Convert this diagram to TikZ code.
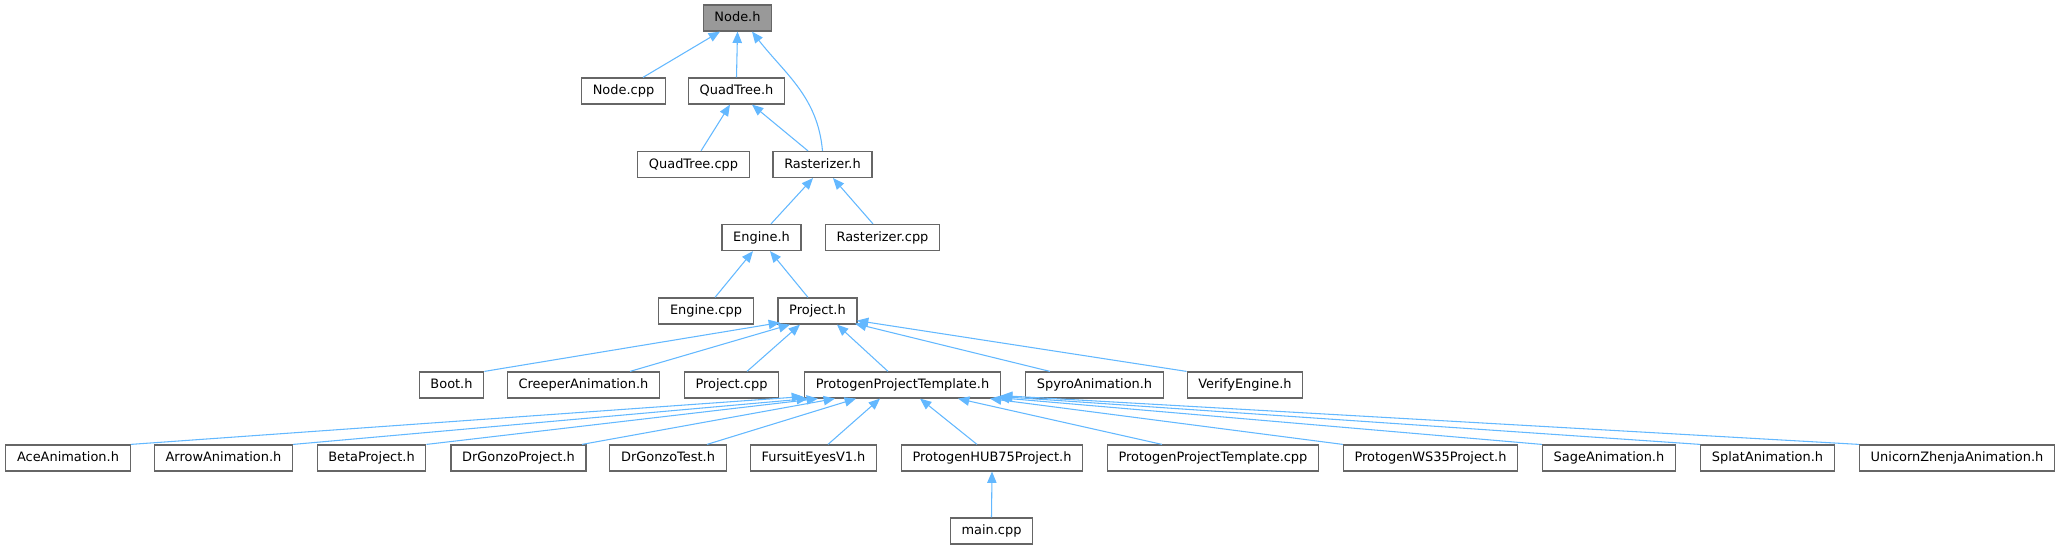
\documentclass[tikz,border=0pt]{standalone}
\usepackage{fontspec}
\setmainfont{DejaVu Sans}
\usepackage{xcolor}
\usetikzlibrary{arrows.meta,calc}
\definecolor{edgeblue}{HTML}{63B8FF}
\definecolor{boxgray}{HTML}{666666}
\definecolor{rootgray}{HTML}{999999}

\begin{document}
\begin{tikzpicture}[x=0.75pt,y=-0.75pt,font=\fontsize{9.7}{11}\selectfont,
 >={Triangle[length=8.5pt,width=7pt]},
 file/.style={draw=boxgray,line width=0.9pt,fill=white,inner xsep=8.4pt,inner ysep=0pt,
  minimum height=19.5pt,text height=7.3pt,text depth=2pt},
 dep/.style={->,draw=edgeblue,fill=none,line width=0.8pt}]
\useasboundingbox (0,0) rectangle (2061,549);
% ranks of the include graph
\node[file,fill=rootgray] (nodeh) at (737.5,18) {Node.h};
\node[file] (nodecpp) at (623.5,91) {Node.cpp};
\node[file] (qth) at (736.5,91) {QuadTree.h};
\node[file] (qtcpp) at (693.5,164.5) {QuadTree.cpp};
\node[file] (rasth) at (822.5,164.5) {Rasterizer.h};
\node[file] (engh) at (761.5,237.5) {Engine.h};
\node[file] (rastcpp) at (882.5,237.5) {Rasterizer.cpp};
\node[file] (engcpp) at (706,311) {Engine.cpp};
\node[file] (projh) at (817.5,311) {Project.h};
\node[file] (boot) at (451.5,385) {Boot.h};
\node[file] (creeper) at (583.5,385) {CreeperAnimation.h};
\node[file] (projcpp) at (731.5,385) {Project.cpp};
\node[file] (ppth) at (902.5,385) {ProtogenProjectTemplate.h};
\node[file] (spyro) at (1094.5,385) {SpyroAnimation.h};
\node[file] (verify) at (1245,385) {VerifyEngine.h};
\node[file] (ace) at (68,458) {AceAnimation.h};
\node[file] (arrow) at (223.5,458) {ArrowAnimation.h};
\node[file] (beta) at (371.5,458) {BetaProject.h};
\node[file] (gonzop) at (518.5,458) {DrGonzoProject.h};
\node[file] (gonzot) at (668,458) {DrGonzoTest.h};
\node[file] (fursuit) at (813.5,458) {FursuitEyesV1.h};
\node[file] (hub) at (992,458) {ProtogenHUB75Project.h};
\node[file] (pptcpp) at (1213,458) {ProtogenProjectTemplate.cpp};
\node[file] (ws) at (1430.5,458) {ProtogenWS35Project.h};
\node[file] (sage) at (1609,458) {SageAnimation.h};
\node[file] (splat) at (1767.5,458) {SplatAnimation.h};
\node[file] (unicorn) at (1957,458) {UnicornZhenjaAnimation.h};
\node[file] (maincpp) at (991.5,531) {main.cpp};
% edges point at the included header
\draw[dep] ($(nodecpp.north)+(19.5,0)$) -- ($(nodeh.south)+(-17.5,0)$);
\draw[dep] (qth.north) -- (nodeh.south);
\draw[dep] (rasth.north) to[out=95,in=-52] ($(nodeh.south)+(14.5,0)$);
\draw[dep] ($(qtcpp.north)+(7.5,0)$) -- ($(qth.south)+(-6.5,0)$);
\draw[dep] ($(rasth.north)+(-14.5,0)$) -- ($(qth.south)+(15.5,0)$);
\draw[dep] ($(engh.north)+(9.5,0)$) -- ($(rasth.south)+(-9.5,0)$);
\draw[dep] ($(rastcpp.north)+(-9.5,0)$) -- ($(rasth.south)+(10.5,0)$);
\draw[dep] ($(engcpp.north)+(9,0)$) -- ($(engh.south)+(-8.5,0)$);
\draw[dep] ($(projh.north)+(-9.5,0)$) -- ($(engh.south)+(8.5,0)$);
\draw[dep] (boot.north east) -- ($(projh.south)+(-37.5,-2)$);
\draw[dep] ($(creeper.north)+(46.5,0)$) -- ($(projh.south)+(-27.5,0)$);
\draw[dep] ($(projcpp.north)+(15.5,0)$) -- ($(projh.south)+(-17.5,0)$);
\draw[dep] ($(ppth.north)+(-14.5,0)$) -- ($(projh.south)+(19.5,0)$);
\draw[dep] ($(spyro.north)+(-44.5,0)$) -- ($(projh.south)+(37.5,-1)$);
\draw[dep] (verify.north west) -- ($(projh.south)+(39.5,-4)$);
\draw[dep] (ace.north east) -- ($(ppth.south)+(-99.5,-2)$);
\draw[dep] (arrow.north east) -- ($(ppth.south)+(-94.5,0)$);
\draw[dep] (beta.north east) -- ($(ppth.south)+(-84.5,0)$);
\draw[dep] ($(gonzop.north)+(63.5,0)$) -- ($(ppth.south)+(-67.5,0)$);
\draw[dep] ($(gonzot.north)+(39,0)$) -- ($(ppth.south)+(-46.5,0)$);
\draw[dep] ($(fursuit.north)+(14.5,0)$) -- ($(ppth.south)+(-22.5,0)$);
\draw[dep] ($(hub.north)+(-15,0)$) -- ($(ppth.south)+(17.5,0)$);
\draw[dep] ($(pptcpp.north)+(-51,0)$) -- ($(ppth.south)+(55.5,0)$);
\draw[dep] (ws.north west) -- ($(ppth.south)+(87.5,0)$);
\draw[dep] (sage.north west) -- ($(ppth.south)+(95.5,-1)$);
\draw[dep] (splat.north west) -- ($(ppth.south)+(98.5,-2)$);
\draw[dep] (unicorn.north west) -- ($(ppth.south)+(98.5,-3)$);
\draw[dep] (maincpp.north) -- (hub.south);
\end{tikzpicture}
\end{document}
